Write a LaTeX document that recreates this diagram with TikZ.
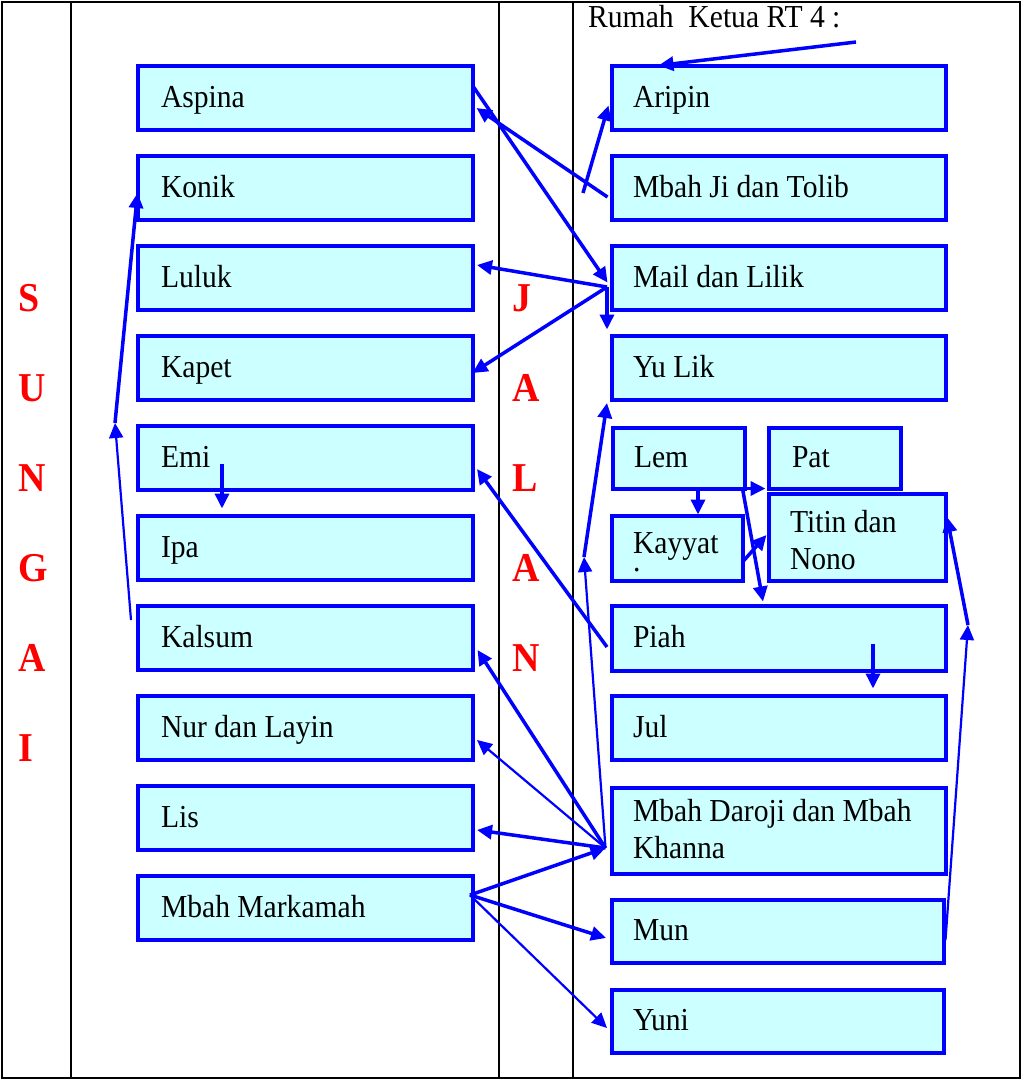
\documentclass[tikz,border=0pt]{standalone}
\usepackage{fontspec}
\setmainfont{Liberation Serif}[FakeStretch=0.925]
\usetikzlibrary{arrows.meta}
\definecolor{boxcyan}{HTML}{CCFFFF}
\definecolor{linkblue}{HTML}{0000FF}
\definecolor{letterred}{HTML}{FF0000}
\newcommand\nodetextfont{\fontsize{32}{37}\selectfont}
\newcommand\bigletterfont{\fontsize{41}{41}\selectfont\bfseries}

\begin{document}
\begin{tikzpicture}[x=1pt,y=-1pt,
  frame/.style={draw=black,line width=2pt},
  box/.style={draw=linkblue,fill=boxcyan,line width=4pt,rectangle,
    anchor=north west,outer sep=0pt,inner ysep=0pt,align=flush left,
    text height=26pt,text depth=7pt,font=\nodetextfont},
  lbox/.style={box,minimum width=335pt,minimum height=64pt,
    inner xsep=23.5pt,text width=288pt},
  rbox/.style={box,minimum width=334pt,minimum height=64pt,
    inner xsep=21.5pt,text width=291pt},
  letter/.style={anchor=base west,inner sep=0pt,text=letterred,font=\bigletterfont},
  link/.style={draw=linkblue,line width=3.5pt,-{Triangle[length=15pt,width=14pt]}},
  thinlink/.style={link,line width=2.2pt}]

\useasboundingbox (0,0) rectangle (1022,1080);

% frame and the two strips (river and road)
\draw[frame] (2,2) rectangle (1020,1078);
\draw[frame] (71,2) -- (71,1078);
\draw[frame] (499,2) -- (499,1078);
\draw[frame] (573,2) -- (573,1078);

\foreach \l [count=\i] in {S,U,N,G,A,I}
  \node[letter] (sungai\i) at (18,{311+90*(\i-1)}) {\l};
\foreach \l [count=\i] in {J,A,L,A,N}
  \node[letter] (jalan\i) at (512,{311+90*(\i-1)}) {\l};

% houses west of the road
\node[lbox] (aspina)   at (137.5,65.5)  {Aspina};
\node[lbox] (konik)    at (137.5,155.5) {Konik};
\node[lbox] (luluk)    at (137.5,245.5) {Luluk};
\node[lbox] (kapet)    at (137.5,335.5) {Kapet};
\node[lbox] (emi)      at (137.5,425.5) {Emi};
\node[lbox] (ipa)      at (137.5,515.5) {Ipa};
\node[lbox] (kalsum)   at (137.5,605.5) {Kalsum};
\node[lbox] (nur)      at (137.5,695.5) {Nur dan Layin};
\node[lbox] (lis)      at (137.5,785.5) {Lis};
\node[lbox] (markamah) at (137.5,875.5) {Mbah Markamah};

% houses east of the road
\node[anchor=base west,inner sep=0pt,font=\nodetextfont] (rt) at (588,27) {Rumah\ \ Ketua RT 4 :};
\node[rbox] (aripin) at (611.5,65.5)  {Aripin};
\node[rbox] (mbahji) at (611.5,155.5) {Mbah Ji dan Tolib};
\node[rbox] (mail)   at (611.5,245.5) {Mail dan Lilik};
\node[rbox] (yulik)  at (611.5,335.5) {Yu Lik};
\node[box,minimum width=132pt,minimum height=61pt,inner xsep=21.5pt,text width=89pt]
  (lem) at (612.5,427.5) {Lem};
\node[box,minimum width=132pt,minimum height=61pt,inner xsep=23.5pt,text width=85pt]
  (pat) at (768.5,427.5) {Pat};
\node[box,minimum width=131pt,minimum height=65pt,inner xsep=21.5pt,text width=88pt,
  text depth=16pt] (kayyat) at (611.5,515.5) {Kayyat\\[-19pt].};
\node[box,minimum width=177pt,minimum height=87pt,inner xsep=21.5pt,text width=134pt,
  text depth=36pt] (titin) at (768.5,493.5) {Titin dan\\Nono};
\node[rbox,minimum height=65pt] (piah) at (611.5,605.5) {Piah};
\node[rbox] (jul) at (611.5,695.5) {Jul};
\node[rbox,minimum height=86pt,text depth=44pt] (daroji) at (611.5,787.5)
  {Mbah Daroji dan Mbah\\Khanna};
\node[box,minimum width=332pt,minimum height=63pt,inner xsep=21.5pt,text width=289pt]
  (mun) at (611.5,899.5) {Mun};
\node[box,minimum width=332pt,minimum height=63pt,inner xsep=21.5pt,text width=289pt]
  (yuni) at (611.5,989.5) {Yuni};

% junctions and bends of the visiting route
\coordinate (rtend)   at (856,42);
\coordinate (jifoot)  at (583,193);
\coordinate (kbend)   at (115,423);
\coordinate (yubend)  at (584,557);
\coordinate (munbend) at (968,625);
\coordinate (mailhub) at ([xshift=-4.5pt,yshift=-9.5pt]mail.west);
\coordinate (darhub)  at ([xshift=-6pt,yshift=-17.5pt]daroji.west);
\coordinate (markhub) at ([xshift=-2.5pt,yshift=12.5pt]markamah.east);

\draw[link] (rtend) -- ([xshift=-120pt]aripin.north);
\draw[link] ([yshift=12pt]aspina.east) -- ([xshift=-4pt,yshift=-5pt]mail.west);
\draw[link] ([xshift=-4pt,yshift=-9.5pt]mbahji.west) -- ([xshift=4pt,yshift=-10.5pt]aspina.east);
\draw[link] (jifoot) -- ([xshift=-3pt,yshift=-8pt]aripin.west);
\draw[link] (mailhub) -- ([xshift=4.5pt,yshift=12.5pt]luluk.east);
\draw[link] (mailhub) -- ([yshift=-5.5pt]kapet.east);
\draw[link] (mailhub) -- ([xshift=-4.5pt,yshift=6pt]yulik.north west);

\draw[thinlink] ([xshift=-6.5pt,yshift=17.5pt]kalsum.west) -- (kbend);
\draw[link] (kbend) -- ([yshift=-5.5pt]konik.west);
\draw[link] ([xshift=84.5pt,yshift=25.5pt]emi.south west) -- ([xshift=84.5pt,yshift=7pt]ipa.north west);
\draw[link] ([xshift=-4.5pt,yshift=-9pt]piah.west) -- ([xshift=4.5pt,yshift=-11.5pt]emi.east);

\draw[thinlink] (darhub) -- (yubend);
\draw[link] (yubend) -- ([xshift=-4.5pt,yshift=-3.5pt]yulik.south west);
\draw[link] (darhub) -- ([xshift=5pt,yshift=-12.5pt]kalsum.east);
\draw[thinlink] (darhub) -- ([xshift=4.5pt,yshift=-12.5pt]nur.east);
\draw[link] (darhub) -- ([xshift=4.5pt,yshift=-12.5pt]lis.east);

\draw[link] (markhub) -- (darhub);
\draw[link] (markhub) -- ([xshift=-5.5pt,yshift=-7pt]mun.west);
\draw[thinlink] (markhub) -- ([xshift=-4.5pt,yshift=-7pt]yuni.west);

\draw[thinlink] ([xshift=2pt,yshift=-9pt]mun.east) -- (munbend);
\draw[link] (munbend) -- ([xshift=1.5pt,yshift=20pt]titin.east);

\draw[link] ([xshift=19.5pt]lem.south) -- ([xshift=21pt,yshift=1pt]kayyat.north);
\draw[link] ([xshift=-2pt]lem.south east) -- ([xshift=-3pt]pat.south west);
\draw[link] ([xshift=-2pt]lem.south east) -- ([xshift=151.5pt,yshift=4pt]piah.north west);
\draw[link] ([yshift=-14pt]kayyat.east) -- ([xshift=-2pt,yshift=2pt]titin.west);
\draw[link] ([xshift=261.5pt,yshift=-38.5pt]piah.north west) -- ([xshift=261.5pt,yshift=7pt]jul.north west);
\end{tikzpicture}
\end{document}
